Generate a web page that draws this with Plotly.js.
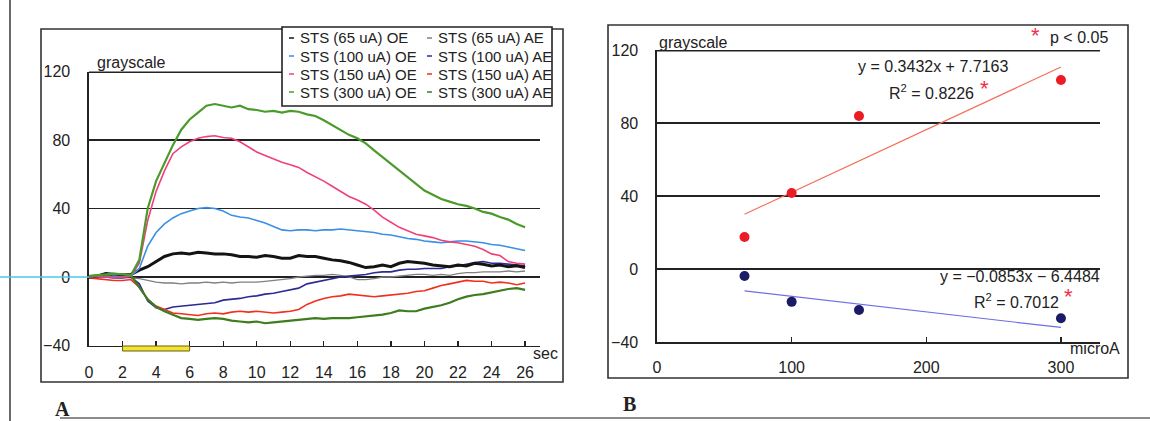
<!DOCTYPE html>
<html>
<head>
<meta charset="utf-8">
<script src="https://cdn.plot.ly/plotly-3.0.1.min.js"></script>
<style>html,body{margin:0;padding:0;background:#fff;}#chart{width:1150px;height:421px;}</style>
</head>
<body>
<div id="chart"></div>
<script>
// ---------- DATA (panel A: time courses) ----------
const timeSec = [0,0.5,1,1.5,2,2.5,3,3.5,4,4.5,5,5.5,6,6.5,7,7.5,8,8.5,9,9.5,10,10.5,11,11.5,12,12.5,13,13.5,14,14.5,15,15.5,16,16.5,17,17.5,18,18.5,19,19.5,20,20.5,21,21.5,22,22.5,23,23.5,24,24.5,25,25.5,26];
const oe65  = [0,0.5,2,1.5,1,1.5,4, 6,9,12,13.5,14,13.5,14.5, 14,13.5,13.5,13,12,12,11.5, 12.5,12,11,11,12.5,12,12, 11,10,9.5,8.5,7,5.5,6, 7,6,8,9,8.5,8,7, 6.5,6,7,6.5,8,7.5,6.5, 7,6,6.5,5.5];
const oe100 = [0,0.5,0,0.5,0,0.5,5, 18,26,31,34.5,37,38.5,40, 40.5,40,38.5,36,35,34.5,33, 31.5,29.5,27.5,27,27.5,27.5,27, 27.5,27.5,28,27.5,27,26.5,26, 25,24.5,23.5,22.5,22,21,20.5, 20,20.5,21,21,20.5,20,19, 18.5,17.5,16.5,15.5];
const oe150 = [0,0.5,0,-0.5,0,0.5,8, 33,50,62,72,76,79,81, 82,82.5,81.5,81,79,76,73, 71,69,67,65.5,64,61,58.5, 56,53,50,47,45,42.5,39, 35,32,29,27,25,24,23, 21.5,20.5,20,19,18,16,13.5, 12.5,9,8,7.5];
const oe300 = [0.5,1,1.5,2,1.5,1,10, 40,56,67,77,86,92,96, 100,101,100,99,100,98,97.5, 96.5,97,96,97,96.5,95,94, 91.5,88.5,86,83,81,78,74, 70,66.5,62,58,54,50.5,48, 45.5,44,42.5,41.5,40,38,37, 35,33.5,31,29];
const ae65  = [0,-0.5,0,0.5,0,-0.5,-1, -2,-3,-3.5,-3.5,-4,-3.5,-3.5, -3,-3.5,-3,-3.5,-3,-3,-3, -2.5,-2,-1.5,-1,0,0.5,1, 1,1.5,1,0,-1.5,-1.5,-1, 0,0,0.5,1,1.5,1.5,1, 1.5,1,2,2.5,2.5,3,3, 3,3.5,3,3.5];
const ae100 = [0,0.5,0,-0.5,-0.5,0,-4, -14,-18,-19,-17.5,-17,-16.5,-16, -15.5,-15,-13.5,-13,-12.5,-11.5,-11, -10,-9.5,-8.5,-7.5,-6.5,-4,-3, -2,-1,0,0.5,1,1.5,2.5, 3,3,4,4.5,4.5,5,5, 5,6,6.5,7.5,8.5,9,8, 8,7.5,7,6.5];
const ae150 = [-0.5,-1,-1.5,-2,-2,-1.5,-6, -13,-17,-19,-21,-21.5,-22,-22.5, -21.5,-21,-21.5,-20.5,-20,-20.5,-20, -20.5,-21,-20.5,-20,-19,-16,-14, -12.5,-11.5,-11,-10,-10.5,-11,-11.5, -11,-10.5,-10,-9.5,-8.5,-8,-6.5, -5,-4,-3,-2,-2.5,-2.5,-3.5, -3,-3.5,-4.5,-3.5];
const ae300 = [0.5,1,1.5,1,1.5,1,-6, -13,-17.5,-20,-22,-24,-24.5,-25, -24.5,-24,-24.5,-25.5,-26,-26.5,-26, -27,-26.5,-26,-25.5,-25,-24.5,-24, -24.5,-24,-24,-24,-23.5,-23,-22.5, -22,-21,-19.5,-20,-20,-18.5,-17.5, -16.5,-15,-13,-11.5,-10.5,-10,-9, -8,-7,-6.5,-7.5];
const seriesNames = ['STS (65 uA) OE','STS (100 uA) OE','STS (150 uA) OE','STS (300 uA) OE',
                     'STS (65 uA) AE','STS (100 uA) AE','STS (150 uA) AE','STS (300 uA) AE'];
const stimulusSec = [2, 6];
const timeTicks = [0,2,4,6,8,10,12,14,16,18,20,22,24,26];
const grayTicks = [-40,0,40,80,120];

// ---------- DATA (panel B: dose response) ----------
const currentUA  = [65, 100, 150, 300];
const oeResponse = [17.5, 41.6, 83.8, 103.6];
const aeResponse = [-3.8, -18, -22.5, -27];
const fitSlope     = [0.3432, -0.0853];
const fitIntercept = [7.7163, -6.4484];
const fitRange     = [65, 300];
const currentTicks = [0, 100, 200, 300];

// ---------- STYLE ----------
const W = 1150, H = 421;
const px = x => x / W;
const py = y => 1 - y / H;
const FONT = 'Liberation Sans, Arial, sans-serif';
const INK = '#222';

const seriesData = [oe65, oe100, oe150, oe300, ae65, ae100, ae150, ae300];
const seriesColors = ['#141414','#3a8fe6','#f0407c','#4a9a2c','#808080','#2b2b92','#f2301e','#3d7d1e'];
const seriesWidths = [3, 1.6, 1.6, 2.2, 1.3, 1.6, 1.6, 2.2];

const traces = [];
const drawOrder = [4,5,6,7,0,1,2,3];
drawOrder.forEach(i => {
  traces.push({
    type: 'scatter', mode: 'lines', name: seriesNames[i],
    x: timeSec, y: seriesData[i], xaxis: 'x', yaxis: 'y',
    line: {color: seriesColors[i], width: seriesWidths[i]},
    showlegend: false, hoverinfo: 'skip'
  });
});

// panel B trend lines
const fitColors = ['#f3705a', '#6e6ee6'];
[0,1].forEach(k => {
  traces.push({
    type: 'scatter', mode: 'lines', x: fitRange,
    y: fitRange.map(v => fitSlope[k] * v + fitIntercept[k]),
    xaxis: 'x2', yaxis: 'y2', line: {color: fitColors[k], width: 1.2},
    showlegend: false, hoverinfo: 'skip'
  });
});
traces.push({type:'scatter', mode:'markers', x: currentUA, y: oeResponse, xaxis:'x2', yaxis:'y2',
  marker:{color:'#ec1c24', size:10}, showlegend:false, name:'OE'});
traces.push({type:'scatter', mode:'markers', x: currentUA, y: aeResponse, xaxis:'x2', yaxis:'y2',
  marker:{color:'#1c1c66', size:10}, showlegend:false, name:'AE'});

const tickFont = {family: FONT, size: 16, color: INK};
const axisCommonY = {
  range: [-40, 120], tickvals: grayTicks, showgrid: true, gridcolor: INK, gridwidth: 1.3,
  zeroline: true, zerolinecolor: INK, zerolinewidth: 1.3,
  showline: true, linecolor: INK, linewidth: 1.6, ticks: '', tickfont: tickFont,
  ticklabelstandoff: 14, fixedrange: true
};

// annotations
const ann = [];
const txt = (x, y, t, opts) => ann.push(Object.assign({
  xref: 'paper', yref: 'paper', x: px(x), y: py(y), text: t, showarrow: false,
  xanchor: 'left', yanchor: 'middle', font: {family: FONT, size: 16, color: INK}
}, opts || {}));

txt(95, 62, 'grayscale');
txt(531, 353, 'sec');
txt(657, 42, 'grayscale');
txt(1068, 348, 'microA');
txt(1010, 67, 'y = 0.3432x + 7.7163', {xanchor: 'right'});
txt(976, 92, 'R<sup>2</sup> = 0.8226', {xanchor: 'right'});
txt(1102, 276, 'y = −0.0853x − 6.4484', {xanchor: 'right'});
txt(1061, 301, 'R<sup>2</sup> = 0.7012', {xanchor: 'right'});
txt(1110, 38, 'p < 0.05', {xanchor: 'right'});
const starFont = {family: FONT, size: 22, color: '#f0304a'};
txt(1035, 36, '*', {xanchor: 'center', font: starFont});
txt(984, 88, '*', {xanchor: 'center', font: starFont});
txt(1068, 296, '*', {xanchor: 'center', font: starFont});
txt(53, 409, '<b>A</b>', {font: {family: 'Liberation Serif, serif', size: 20, color: INK}});
txt(621, 404, '<b>B</b>', {font: {family: 'Liberation Serif, serif', size: 20, color: INK}});

const topVal = grayTicks[grayTicks.length - 1];
const shapes = [
  // top gridlines at 120 (half clipped by the plot edge, hence the wider stroke)
  {type:'line', xref:'paper', yref:'y', x0:px(89), x1:px(540), y0:topVal, y1:topVal, line:{color:INK, width:2.8}},
  {type:'line', xref:'paper', yref:'y2', x0:px(657), x1:px(1100), y0:topVal, y1:topVal, line:{color:INK, width:2.8}},
  // panel frames
  {type:'rect', xref:'paper', yref:'paper', x0:px(41), x1:px(563), y0:py(382), y1:py(29), line:{color:'#333', width:1.6}},
  {type:'rect', xref:'paper', yref:'paper', x0:px(608), x1:px(1128), y0:py(378), y1:py(25), line:{color:'#333', width:1.6}},
  // figure border lines
  {type:'line', xref:'paper', yref:'paper', x0:px(10), x1:px(10), y0:0, y1:1, line:{color:'#444', width:1.6}},
  {type:'line', xref:'paper', yref:'paper', x0:px(60), x1:1, y0:py(418), y1:py(418), line:{color:'#666', width:1.4}},
  // legend box
  {type:'rect', xref:'paper', yref:'paper', x0:px(282), x1:px(552), y0:py(106), y1:py(27), fillcolor:'#fff', line:{color:'#222', width:1.6}},
  // stimulus bar
  {type:'rect', xref:'x', yref:'paper', x0:stimulusSec[0], x1:stimulusSec[1], y0:py(351), y1:py(346), fillcolor:'#f2e532', line:{color:'#6a6010', width:1}},
  // cyan scan streak left of panel A zero line
  {type:'line', xref:'paper', yref:'paper', x0:0, x1:px(89), y0:py(277), y1:py(277), line:{color:'#48c8e8', width:1.5}}
];

// legend for panel A (two columns: OE, AE)
const legRows = [38, 56, 74, 92];
seriesNames.forEach((nm, i) => {
  const col = i < 4 ? 0 : 1, row = i % 4;
  const xText = col === 0 ? 298 : 436;
  shapes.push({type:'line', xref:'paper', yref:'paper', x0:px(xText - 9), x1:px(xText - 4),
    y0:py(legRows[row]), y1:py(legRows[row]), line:{color: seriesColors[i], width: 1.5}});
  txt(xText, legRows[row], nm, {font: {family: FONT, size: 15, color: INK}});
});

const layout = {
  width: W, height: H, margin: {l:0, r:0, t:0, b:0},
  paper_bgcolor: '#fff', plot_bgcolor: 'rgba(0,0,0,0)', showlegend: false,
  xaxis: {domain:[px(89), px(540)], range:[0, 26.89], tickvals: timeTicks, showgrid:false, zeroline:false,
    showline:true, linecolor:INK, linewidth:1.6, ticks:'inside', ticklen:5, tickcolor:INK, tickwidth:1.3,
    tickfont: tickFont, ticklabelstandoff: 12, anchor:'y', fixedrange:true},
  yaxis: Object.assign({}, axisCommonY, {domain:[py(345.5), py(71.5)], anchor:'x'}),
  xaxis2: {domain:[px(657), px(1100)], range:[0, 329], tickvals: currentTicks, showgrid:false, zeroline:false,
    showline:true, linecolor:INK, linewidth:1.6, ticks:'inside', ticklen:5, tickcolor:INK, tickwidth:1.3,
    tickfont: tickFont, ticklabelstandoff: 10, anchor:'y2', fixedrange:true},
  yaxis2: Object.assign({}, axisCommonY, {domain:[py(342), py(50)], anchor:'x2'}),
  annotations: ann, shapes: shapes
};

Plotly.newPlot('chart', traces, layout, {displayModeBar:false, staticPlot:true});
</script>
</body>
</html>
